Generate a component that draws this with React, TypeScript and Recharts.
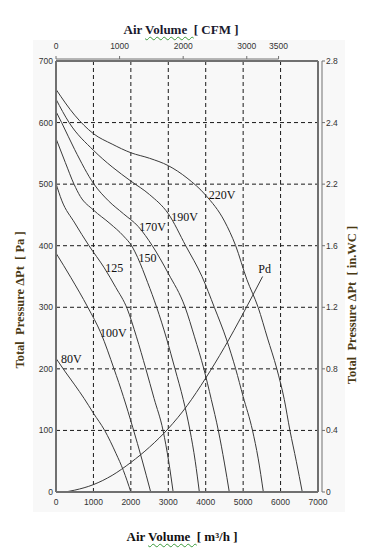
import React from "react"
import { LineChart, Line, XAxis, YAxis, CartesianGrid, ReferenceLine } from "recharts"

// axes: air volume in m³/h (bottom), CFM (top), pressure in Pa (left), in.WC (right)
const flowTicks = [0, 1000, 2000, 3000, 4000, 5000, 6000, 7000]
const paTicks = [0, 100, 200, 300, 400, 500, 600, 700]
const cfmTicks = [0, 1000, 2000, 3000, 3500]
const inwcTicks = [0, 0.4, 0.8, 1.2, 1.6, 2.0, 2.4, 2.8]
const inwcLabels = ["0", "0.4", "0.8", "1.2", "1.6", "2.2", "2.4", "2.8"]
const gridFlow = [1000, 2000, 3000, 4000, 5000, 6000]
const gridPa = [100, 200, 300, 400, 500, 600]
const M3H_PER_CFM = 1.699

// fan curves, [air volume m³/h, pressure Pa]
const curve220V = [[0, 654], [500, 612], [1000, 582], [1500, 565], [2000, 551], [2500, 542], [3000, 530], [3500, 510], [4000, 482], [4500, 440], [4800, 400], [5100, 345], [5400, 300], [5650, 250], [5900, 200], [6100, 150], [6250, 100], [6420, 50], [6580, 0]]
const curve190V = [[0, 638], [350, 600], [1000, 555], [1500, 528], [2000, 505], [2500, 483], [3000, 452], [3465, 400], [3900, 350], [4230, 300], [4560, 247], [4800, 200], [5000, 155], [5250, 100], [5400, 55], [5540, 0]]
const curve170V = [[0, 618], [150, 600], [500, 556], [1015, 500], [1400, 473], [1800, 452], [2200, 431], [2573, 400], [3000, 355], [3450, 300], [3700, 252], [3950, 200], [4150, 150], [4337, 100], [4500, 47], [4630, 0]]
const curve150 = [[0, 574], [250, 535], [481, 500], [650, 480], [1000, 458], [1443, 436], [1800, 416], [2040, 398], [2180, 381], [2450, 340], [2690, 300], [2950, 250], [3179, 200], [3400, 150], [3580, 100], [3720, 50], [3830, 0]]
const curve125 = [[0, 501], [150, 474], [500, 437], [882, 400], [1290, 364], [1600, 332], [1900, 298], [2150, 252], [2400, 200], [2620, 152], [2860, 100], [3010, 50], [3130, 0]]
const curve100V = [[0, 388], [400, 348], [850, 300], [1200, 258], [1550, 200], [1800, 155], [2050, 105], [2300, 52], [2530, 0]]
const curve80V = [[0, 217], [250, 195], [500, 174], [750, 152], [1000, 128], [1300, 100], [1600, 63], [1800, 35], [2000, 0]]
const curvePd = [[250, 0], [500, 3], [1000, 12], [1500, 27], [2000, 48], [2500, 73], [3000, 103], [3500, 140], [4000, 185], [4500, 235], [5000, 290], [5520, 350]]

type Curve = {
  name: string
  points: number[][]
  labelAt: number
  dx: number
  dy: number
  anchor: "start" | "middle"
}

const curves: Curve[] = [
  { name: "220V", points: curve220V, labelAt: 8, dx: 3, dy: 4, anchor: "start" },
  { name: "190V", points: curve190V, labelAt: 6, dx: 3, dy: 7, anchor: "start" },
  { name: "170V", points: curve170V, labelAt: 6, dx: 1, dy: 4, anchor: "start" },
  { name: "150", points: curve150, labelAt: 8, dx: 1, dy: 5, anchor: "start" },
  { name: "125", points: curve125, labelAt: 4, dx: 1, dy: 4, anchor: "start" },
  { name: "100V", points: curve100V, labelAt: 3, dx: -1, dy: 4, anchor: "start" },
  { name: "80V", points: curve80V, labelAt: 0, dx: 5, dy: 5, anchor: "start" },
  { name: "Pd", points: curvePd, labelAt: 11, dx: 2, dy: -4, anchor: "middle" },
]

const toRows = (pts: number[][]) => pts.map(([q, p]) => ({ q, p }))

// chart-level rows so the secondary (CFM / in.WC) axes get a scale
const axisRows = inwcTicks.map((inwc, i) => ({ inwc, cfm: cfmTicks[Math.min(i, cfmTicks.length - 1)] }))

const LINE = "#3a3a3a"
const FRAME = "#707070"
const tickFont = { fontFamily: "'Liberation Sans', Arial, sans-serif", fontSize: 8.5, fill: "#333" }
const serif = "'Liberation Serif', 'Times New Roman', serif"

function LeftTick({ x, y, payload }: any) {
  return (
    <text x={x - 3} y={y + 3} textAnchor="end" {...tickFont}>
      {payload.value}
    </text>
  )
}

function BottomTick({ x, y, payload }: any) {
  return (
    <text x={x} y={y + 13} textAnchor="middle" {...tickFont}>
      {payload.value}
    </text>
  )
}

function TopTick({ x, y, payload }: any) {
  return (
    <g>
      <line x1={x} y1={y - 2} x2={x} y2={y - 5} stroke={FRAME} />
      <text x={x} y={y - 12} textAnchor="middle" {...tickFont}>
        {payload.value}
      </text>
    </g>
  )
}

function RightTick({ x, y, payload }: any) {
  const i = inwcTicks.findIndex((t) => Math.abs(t - payload.value) < 1e-6)
  return (
    <g>
      <line x1={x + 4} y1={y} x2={x + 7} y2={y} stroke={FRAME} />
      <text x={x + 8} y={y + 3} textAnchor="start" {...tickFont}>
        {i >= 0 ? inwcLabels[i] : payload.value}
      </text>
    </g>
  )
}

const curveLabel = (c: Curve) => (props: any) => {
  if (props.index !== c.labelAt) return null
  return (
    <text
      key={c.name}
      x={props.x + c.dx}
      y={props.y + c.dy}
      textAnchor={c.anchor}
      fontFamily={serif}
      fontSize={12}
      fill="#111"
    >
      {c.name}
    </text>
  )
}

const wavy = {
  textDecoration: "underline wavy #3a9a3a",
  textDecorationThickness: "1px",
  textUnderlineOffset: "2px",
}

export default function App() {
  return (
    <div style={{ position: "absolute", left: 0, top: 0, width: 373, height: 556, background: "#fff" }}>
      <div style={{ position: "absolute", left: 33, top: 40, width: 312, height: 472, background: "#f8f8f8" }} />
      <div style={{ position: "absolute", left: 0, top: 0 }}>
        <LineChart width={373} height={556} data={axisRows} margin={{ top: 0, right: 0, bottom: 0, left: 0 }}>
          <CartesianGrid
            xAxisId="m3h"
            yAxisId="pa"
            verticalValues={gridFlow}
            horizontalValues={gridPa}
            stroke="#1a1a1a"
            strokeDasharray="4 3"
          />
          <XAxis
            xAxisId="m3h"
            dataKey="q"
            type="number"
            domain={[0, 7000]}
            allowDataOverflow
            ticks={flowTicks}
            interval={0}
            height={64}
            tickSize={0}
            tickMargin={0}
            tick={BottomTick}
            axisLine={{ stroke: FRAME, strokeWidth: 2 }}
          />
          <XAxis
            xAxisId="cfm"
            dataKey="cfm"
            orientation="top"
            type="number"
            domain={[0, 7000 / M3H_PER_CFM]}
            allowDataOverflow
            ticks={cfmTicks}
            interval={0}
            height={61}
            tickSize={0}
            tickMargin={0}
            tick={TopTick}
            axisLine={{ stroke: FRAME, strokeWidth: 2 }}
          />
          <YAxis
            yAxisId="pa"
            type="number"
            domain={[0, 700]}
            allowDataOverflow
            ticks={paTicks}
            interval={0}
            width={56}
            tickSize={0}
            tickMargin={0}
            tick={LeftTick}
            axisLine={{ stroke: FRAME, strokeWidth: 2 }}
          />
          <YAxis
            yAxisId="inwc"
            dataKey="inwc"
            orientation="right"
            type="number"
            domain={[0, 2.8]}
            allowDataOverflow
            ticks={inwcTicks}
            interval={0}
            width={55}
            tickSize={0}
            tickMargin={0}
            tick={RightTick}
            axisLine={{ stroke: FRAME, strokeWidth: 2 }}
          />
          <ReferenceLine
            xAxisId="cfm"
            yAxisId="pa"
            segment={[{ x: 0, y: 703.2 }, { x: 3500, y: 703.2 }]}
            ifOverflow="visible"
            stroke={FRAME}
          />
          <ReferenceLine
            xAxisId="m3h"
            yAxisId="inwc"
            segment={[{ x: 7107, y: 0 }, { x: 7107, y: 2.8 }]}
            ifOverflow="visible"
            stroke={FRAME}
          />
          {curves.map((c) => (
            <Line
              key={c.name}
              xAxisId="m3h"
              yAxisId="pa"
              data={toRows(c.points)}
              dataKey="p"
              type="monotone"
              dot={false}
              stroke={LINE}
              strokeWidth={1}
              isAnimationActive={false}
              label={curveLabel(c)}
            />
          ))}
        </LineChart>
      </div>
      <div
        style={{
          position: "absolute",
          left: 181,
          top: 23,
          transform: "translateX(-50%)",
          whiteSpace: "pre",
          fontFamily: serif,
          fontWeight: "bold",
          fontSize: 13,
          lineHeight: "13px",
          color: "#1a1a2e",
        }}
      >
        Air <span style={wavy}>{"Volume  "}</span>[ CFM ]
      </div>
      <div
        style={{
          position: "absolute",
          left: 182,
          top: 530,
          transform: "translateX(-50%)",
          whiteSpace: "pre",
          fontFamily: serif,
          fontWeight: "bold",
          fontSize: 13,
          lineHeight: "13px",
          color: "#111",
        }}
      >
        Air <span style={wavy}>{"Volume  "}</span>[ m³/h ]
      </div>
      <div
        style={{
          position: "absolute",
          left: 20,
          top: 300,
          transform: "translate(-50%, -50%) rotate(-90deg)",
          whiteSpace: "pre",
          fontFamily: serif,
          fontWeight: "bold",
          fontSize: 12.5,
          lineHeight: "13px",
          color: "#4a3a14",
        }}
      >
        {"Total  Pressure ΔPt  [ Pa ]"}
      </div>
      <div
        style={{
          position: "absolute",
          left: 352,
          top: 305,
          transform: "translate(-50%, -50%) rotate(-90deg)",
          whiteSpace: "pre",
          fontFamily: serif,
          fontWeight: "bold",
          fontSize: 12.5,
          lineHeight: "13px",
          color: "#4a3a14",
        }}
      >
        {"Total  Pressure ΔPt  [ in.WC ]"}
      </div>
    </div>
  )
}
